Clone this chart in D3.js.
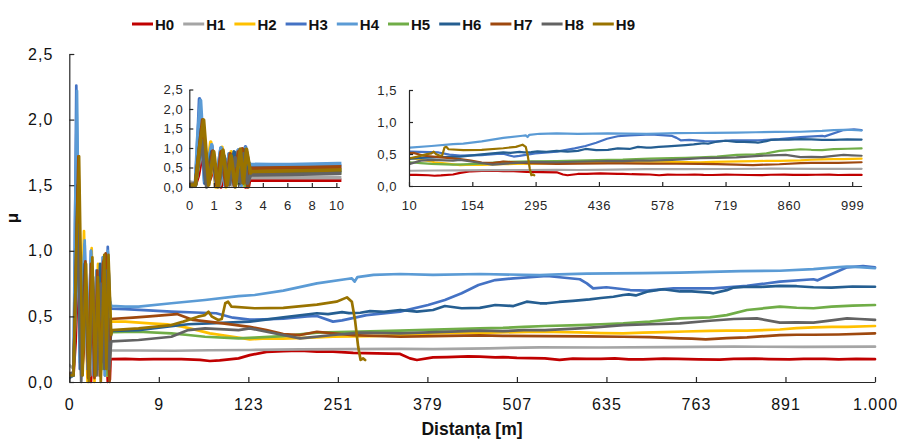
<!DOCTYPE html>
<html>
<head>
<meta charset="utf-8">
<script src="https://cdn.jsdelivr.net/npm/d3@7"></script>
<style>
  body { margin: 0; background: #fff; }
  svg { display: block; }
  text { font-family: "Liberation Sans", Arial, sans-serif; }
</style>
</head>
<body>
<svg id="chart" width="899" height="439"></svg>
<script>
// Friction coefficient μ per sample along the sliding distance, series H0..H9.
// x values are sample indices (category axis); distance labels sit at given indices.
const seriesNames = ["H0", "H1", "H2", "H3", "H4", "H5", "H6", "H7", "H8", "H9"];
const seriesColors = ["#C00000", "#A5A5A5", "#FFC000", "#4472C4", "#5B9BD5",
                      "#70AD47", "#255E91", "#9E480E", "#636363", "#997300"];

const h0 = [[0,0.06],[6,0.05],[9,0.3],[13,0.9],[18,0.05],[25,0.55],[31,0.0],[37,0.6],[44,0.05],[50,0.7],[55,0.0],[58,0.02],[59,0.175],
  [80,0.176],[100,0.172],[120,0.174],[160,0.175],[187,0.168],[201,0.16],[215,0.165],[242,0.18],[258,0.205],[282,0.23],[306,0.236],
  [330,0.238],[354,0.232],[377,0.231],[406,0.222],[440,0.218],[473,0.214],[487,0.18],[497,0.168],[520,0.188],[540,0.19],[570,0.196],
  [587,0.193],[609,0.188],[620,0.19],[640,0.184],[660,0.182],[680,0.18],[701,0.168],[720,0.178],[740,0.176],[760,0.176],[780,0.18],
  [800,0.173],[820,0.172],[850,0.178],[870,0.176],[900,0.172],[930,0.17],[950,0.176],[980,0.178],[1000,0.175],[1030,0.173],
  [1050,0.176],[1080,0.177],[1100,0.172],[1125,0.176],[1152,0.174]];
const h1 = [[0,0.13],[6,0.1],[12,1.0],[17,0.05],[24,0.6],[30,0.05],[36,0.7],[42,0.05],[48,0.65],[54,0.05],[57,0.1],[59,0.24],
  [100,0.24],[150,0.238],[200,0.242],[258,0.244],[330,0.248],[400,0.25],[473,0.252],[520,0.25],[600,0.257],[673,0.264],[760,0.263],
  [850,0.266],[950,0.27],[1050,0.267],[1152,0.269]];
const h2 = [[0,0.05],[6,0.05],[13,1.6],[17,0.3],[21,1.15],[26,0.0],[32,1.02],[36,0.0],[41,0.9],[45,0.05],[50,0.95],[54,0.05],[56,0.9],[59,0.46],
  [80,0.46],[115,0.447],[140,0.44],[163,0.42],[187,0.39],[201,0.371],[234,0.345],[258,0.325],[282,0.333],[306,0.33],[354,0.34],
  [377,0.345],[430,0.35],[473,0.358],[520,0.371],[560,0.375],[600,0.376],[640,0.38],[673,0.383],[730,0.378],[760,0.373],[792,0.371],
  [820,0.377],[850,0.38],[880,0.385],[916,0.389],[940,0.392],[969,0.392],[1016,0.40],[1040,0.41],[1064,0.417],[1090,0.42],
  [1112,0.42],[1152,0.427]];
const h3 = [[0,0.03],[6,0.05],[8,1.0],[10,2.26],[12,1.5],[15,0.1],[22,1.05],[26,0.1],[31,1.0],[35,0.05],[39,0.85],[43,0.1],[48,0.95],[51,0.05],[55,1.03],[58,0.62],[60,0.56],
  [80,0.555],[100,0.549],[146,0.536],[190,0.528],[210,0.524],[234,0.49],[258,0.475],[306,0.482],[340,0.5],[354,0.503],[377,0.46],
  [390,0.47],[425,0.51],[473,0.536],[513,0.587],[537,0.625],[561,0.676],[585,0.739],[609,0.777],[635,0.79],[683,0.808],[730,0.783],
  [740,0.752],[749,0.714],[768,0.722],[802,0.701],[826,0.696],[864,0.714],[921,0.714],[969,0.732],[1016,0.765],[1064,0.783],
  [1070,0.775],[1112,0.874],[1135,0.884],[1152,0.874]];
const h4 = [[0,0.05],[6,0.05],[8,1.2],[11,2.22],[13,1.3],[15,0.15],[22,1.08],[26,0.1],[31,1.0],[35,0.05],[39,0.85],[43,0.1],[48,0.95],[51,0.05],[55,1.0],[58,0.62],[60,0.58],
  [80,0.575],[99,0.574],[146,0.60],[194,0.625],[242,0.655],[265,0.663],[306,0.696],[354,0.752],[397,0.785],[404,0.79],[408,0.765],
  [412,0.80],[435,0.816],[473,0.823],[520,0.816],[587,0.823],[673,0.815],[700,0.82],[740,0.826],[778,0.828],[820,0.83],[873,0.833],
  [916,0.84],[960,0.845],[1016,0.848],[1064,0.86],[1090,0.872],[1112,0.879],[1130,0.875],[1152,0.867]];
const h5 = [[0,0.04],[6,0.05],[13,1.4],[17,0.1],[23,0.7],[28,0.1],[33,0.85],[37,0.1],[42,0.8],[47,0.1],[51,0.9],[55,0.05],[58,0.3],[60,0.38],
  [99,0.383],[146,0.371],[170,0.358],[194,0.345],[242,0.333],[265,0.338],[306,0.35],[354,0.376],[416,0.385],[473,0.391],[587,0.409],
  [620,0.412],[650,0.42],[680,0.427],[730,0.434],[760,0.44],[792,0.447],[830,0.46],[873,0.485],[916,0.493],[940,0.51],[969,0.549],
  [1016,0.574],[1040,0.566],[1064,0.562],[1090,0.575],[1120,0.582],[1152,0.587]];
const h6 = [[0,0.04],[6,0.05],[12,1.5],[16,0.1],[22,0.9],[27,0.15],[32,0.8],[38,0.1],[44,0.9],[49,0.15],[54,0.95],[57,0.2],[60,0.39],
  [99,0.396],[122,0.41],[170,0.44],[218,0.45],[258,0.46],[306,0.493],[354,0.524],[370,0.518],[390,0.532],[400,0.525],[416,0.528],
  [430,0.54],[450,0.535],[473,0.549],[497,0.536],[520,0.549],[537,0.579],[561,0.562],[587,0.565],[609,0.587],[635,0.579],[654,0.612],
  [673,0.6],[683,0.6],[700,0.61],[720,0.618],[744,0.63],[760,0.64],[778,0.65],[792,0.663],[800,0.668],[810,0.66],[826,0.688],
  [849,0.707],[873,0.69],[890,0.69],[916,0.681],[921,0.676],[940,0.7],[950,0.72],[969,0.726],[990,0.725],[1016,0.732],[1040,0.73],
  [1064,0.722],[1090,0.72],[1120,0.728],[1152,0.726]];
const h7 = [[0,0.07],[6,0.06],[13,1.72],[18,0.05],[23,0.92],[27,0.03],[31,0.9],[36,0.03],[40,0.85],[44,0.05],[48,0.9],[52,0.98],[55,0.3],[57.5,0.0],[59,0.48],
  [91,0.49],[115,0.5],[154,0.518],[177,0.473],[211,0.452],[258,0.42],[282,0.396],[306,0.366],[330,0.358],[354,0.383],[377,0.371],
  [406,0.358],[473,0.345],[520,0.35],[587,0.355],[620,0.352],[680,0.35],[740,0.348],[792,0.345],[830,0.342],[873,0.333],[890,0.33],
  [910,0.325],[940,0.335],[969,0.34],[1016,0.358],[1040,0.36],[1064,0.36],[1100,0.362],[1152,0.371]];
const h8 = [[0,0.05],[6,0.08],[12,1.2],[17,0.0],[23,0.75],[29,0.05],[34,0.8],[39,0.05],[45,0.75],[50,0.1],[53,0.85],[57,0.1],[60,0.31],
  [99,0.32],[146,0.345],[170,0.396],[194,0.409],[242,0.396],[258,0.409],[282,0.383],[330,0.333],[377,0.358],[416,0.376],[473,0.371],
  [587,0.391],[620,0.388],[650,0.395],[680,0.396],[730,0.409],[760,0.42],[792,0.434],[830,0.44],[873,0.447],[916,0.467],[950,0.48],
  [983,0.485],[1016,0.452],[1040,0.455],[1064,0.452],[1090,0.47],[1112,0.485],[1130,0.48],[1152,0.473]];
const h9 = [[0,0.05],[6,0.05],[10,1.0],[14,1.72],[19,0.05],[24,0.9],[28,0.0],[33,0.95],[37,0.05],[41,0.8],[45,0.0],[50,0.97],[53,0.1],[56,0.97],[60,0.36],
  [61,0.396],[99,0.409],[146,0.434],[163,0.46],[184,0.498],[194,0.51],[199,0.536],[204,0.498],[213,0.473],[218,0.48],[223,0.6],
  [227,0.612],[232,0.574],[265,0.562],[306,0.565],[354,0.59],[382,0.612],[397,0.645],[404,0.612],[408.5,0.473],[413,0.27],
  [416.5,0.168],[420,0.18],[423,0.168]];
const seriesValues = [h0, h1, h2, h3, h4, h5, h6, h7, h8, h9];

// Category tick positions (sample index) and their distance labels [m]
const mainTickIndex = [0, 128, 256, 384, 512, 640, 768, 896, 1024, 1152];
const mainTickLabels = ["0", "9", "123", "251", "379", "507", "635", "763", "891", "1.000"];
const startTickIndex = [0, 24, 48, 72, 96, 120, 144];
const startTickLabels = ["0", "1", "3", "4", "6", "8", "10"];
const restTickIndex = [144, 285, 426, 567, 708, 849, 990, 1131];
const restTickLabels = ["10", "154", "295", "436", "578", "719", "860", "999"];
const muTicksFull = [0, 0.5, 1.0, 1.5, 2.0, 2.5];
const muTicksRest = [0, 0.5, 1.0, 1.5];

const svg = d3.select("#chart");
const fmtMu = d => d.toFixed(1).replace(".", ",");
const axisColor = "#262626";

function drawPanel(p) {
  const x = d3.scaleLinear().domain(p.xDomain).range(p.xRange);
  const y = d3.scaleLinear().domain(p.yDomain).range(p.yRange);
  const g = svg.append("g");

  const clipId = "clip-" + p.id;
  svg.append("clipPath").attr("id", clipId)
    .append("rect")
    .attr("x", p.xRange[0]).attr("y", p.yRange[1] - 10)
    .attr("width", p.xRange[1] - p.xRange[0] + 2)
    .attr("height", p.yRange[0] - p.yRange[1] + 14);

  const line = d3.line().x(d => x(d[0])).y(d => y(d[1]));
  g.append("g").attr("clip-path", `url(#${clipId})`)
    .selectAll("path").data(seriesValues).join("path")
    .attr("d", d => line(d))
    .attr("fill", "none")
    .attr("stroke", (d, i) => seriesColors[i])
    .attr("stroke-width", p.lineWidth)
    .attr("stroke-linejoin", "round")
    .attr("stroke-linecap", "round");

  const xAxis = d3.axisBottom(x).tickValues(p.xTicks)
    .tickFormat((d, i) => p.xLabels[i])
    .tickSizeInner(-p.tickLen).tickSizeOuter(0).tickPadding(p.xPad);
  const yAxis = d3.axisLeft(y).tickValues(p.yTicks)
    .tickFormat(fmtMu)
    .tickSizeInner(-p.tickLen).tickSizeOuter(0).tickPadding(p.yPad);

  const gx = g.append("g").attr("transform", `translate(0,${p.yRange[0]})`).call(xAxis);
  const gy = g.append("g").attr("transform", `translate(${p.xRange[0]},0)`).call(yAxis);
  [gx, gy].forEach(a => {
    a.attr("font-family", null);
    a.select(".domain").attr("stroke", axisColor).attr("stroke-width", 1.2);
    a.selectAll(".tick line").attr("stroke", axisColor).attr("stroke-width", 1.2);
    a.selectAll(".tick text")
      .attr("fill", p.textColor)
      .style("font-size", p.fontSize + "px")
      .style("letter-spacing", p.spacing + "px");
  });
}

// Full distance range
drawPanel({
  id: "full", xDomain: [0, 1152], xRange: [69.3, 875], yDomain: [0, 2.5], yRange: [382, 54],
  xTicks: mainTickIndex, xLabels: mainTickLabels, yTicks: muTicksFull,
  lineWidth: 2.7, tickLen: 5, xPad: 17, yPad: 16, fontSize: 16, spacing: 1, textColor: "#111"
});

// Running-in stage, first 10 m
drawPanel({
  id: "start", xDomain: [0, 147], xRange: [189.3, 339.4], yDomain: [0, 2.5], yRange: [187, 89.5],
  xTicks: startTickIndex, xLabels: startTickLabels, yTicks: muTicksFull,
  lineWidth: 3.6, tickLen: 4, xPad: 14, yPad: 6, fontSize: 13, spacing: 0.6, textColor: "#262626"
});

// Steady stage, 10 m to the end
drawPanel({
  id: "rest", xDomain: [144, 1152], xRange: [409, 861.6], yDomain: [0, 1.5], yRange: [186, 90],
  xTicks: restTickIndex, xLabels: restTickLabels, yTicks: muTicksRest,
  lineWidth: 2.2, tickLen: 4, xPad: 14.8, yPad: 12, fontSize: 13, spacing: 0.6, textColor: "#262626"
});

// Legend
const legend = svg.append("g");
seriesNames.forEach((name, i) => {
  const x0 = 132 + i * 51.2;
  legend.append("line")
    .attr("x1", x0).attr("x2", x0 + 21).attr("y1", 24).attr("y2", 24)
    .attr("stroke", seriesColors[i]).attr("stroke-width", 3);
  legend.append("text")
    .attr("x", x0 + 23).attr("y", 29.5)
    .attr("font-weight", "bold").attr("font-size", 15).attr("fill", "#111")
    .text(name);
});

// Axis titles
svg.append("text")
  .attr("x", 472).attr("y", 435).attr("text-anchor", "middle")
  .attr("font-weight", "bold").attr("font-size", 17.5).attr("fill", "#111")
  .text("Distanța [m]");
svg.append("text")
  .attr("transform", "translate(18,218) rotate(-90)").attr("text-anchor", "middle")
  .attr("font-weight", "bold").attr("font-size", 17).attr("fill", "#111")
  .text("μ");
</script>
</body>
</html>
